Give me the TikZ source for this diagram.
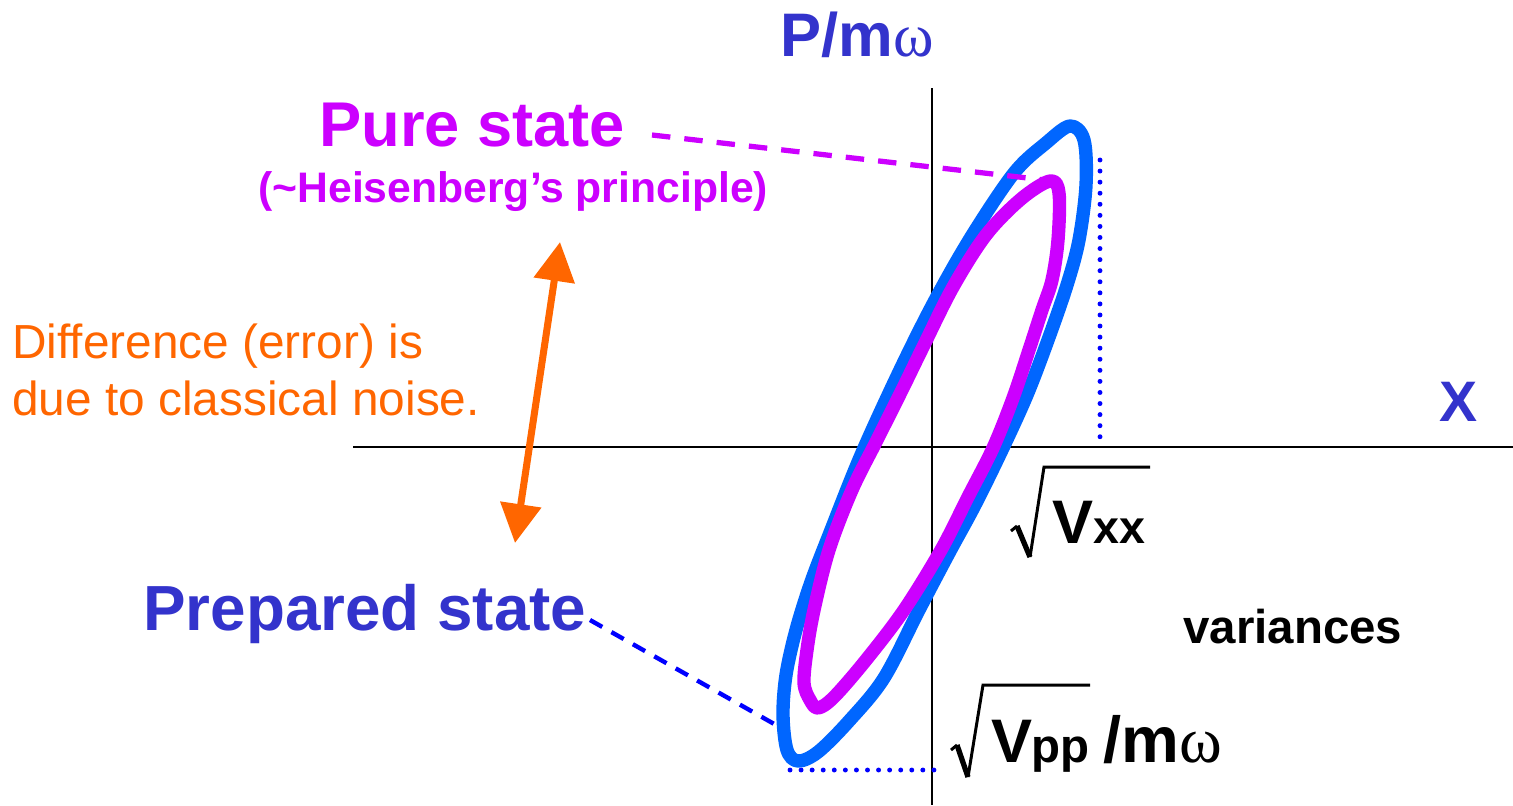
\documentclass[tikz,border=0pt]{standalone}
\usepackage{fontspec}
\setmainfont{Liberation Sans}
\newfontfamily\omegafont{Liberation Serif}
\usetikzlibrary{arrows.meta}
\definecolor{tblue}{HTML}{3333CC}
\definecolor{cblue}{HTML}{0066FF}
\definecolor{cmag}{HTML}{CC00FF}
\definecolor{corange}{HTML}{FF6600}
\definecolor{dblue}{HTML}{0000FF}
\newcommand\fsz[1]{\fontsize{#1}{#1}\selectfont}
\begin{document}
\begin{tikzpicture}[x=0.02cm,y=-0.02cm,
  txt/.style={inner sep=0pt,anchor=base west,font=\bfseries},
  axis/.style={black,line width=0.8pt},
  curve/.style={line width=7.6pt,line join=round,smooth cycle,tension=0.55},
  dotline/.style={dblue,line width=2.8pt,line cap=round,dash pattern=on 0pt off 6.3pt},
  dashmag/.style={cmag,line width=3pt,dash pattern=on 10.5pt off 8pt},
  dashblue/.style={dblue,line width=2.5pt,dash pattern=on 8pt off 6pt},
  radical/.style={black,line width=1.7pt,line join=miter}]
\useasboundingbox (0,0) rectangle (1513,805);

% axes
\coordinate (xl) at (353,447);
\coordinate (xr) at (1513,447);
\coordinate (yt) at (932,88);
\coordinate (yb) at (932,805);
\draw[axis] (xl) -- (xr);
\draw[axis] (yt) -- (yb);

% prepared state (blue curve)
\draw[cblue,curve] plot coordinates {
 (1070,126) (1084,140) (1086,185) (1079,240) (1067,285) (1048,340) (1027,395)
 (1002,450) (975,505) (949,553) (919,610) (884,678) (849,721) (818,752)
 (798,761) (787,750) (783,715) (786,675) (796,630) (811,582) (831,530)
 (861,455) (899,372) (934,302) (971,237) (1014,173) (1046,143)};

% pure state (magenta curve)
\draw[cmag,curve] plot coordinates {
 (1050,181) (1059,193) (1058,240) (1052,280) (1042,310) (1029,350) (1013,398)
 (993,448) (968,497) (941,550) (904,610) (866,660) (834,697) (818,708)
 (810,700) (804,683) (807,650) (814,610) (829,550) (852,490) (877,440)
 (902,390) (923,347) (953,287) (986,235) (1021,199)};

% dotted projections
\coordinate (dvt) at (1100,160);
\coordinate (dvb) at (1100,447);
\coordinate (dhl) at (790,770);
\coordinate (dhr) at (937,770);
\draw[dotline] (dvt) -- (dvb);
\draw[dotline] (dhl) -- (dhr);

% axis labels
\node[txt,text=tblue] (plabel) at (780,56) {\fsz{35}P/m{\omegafont\mdseries ω}};
\node[txt,text=tblue] (xlabel) at (1439,421) {\fsz{32.5}X};

% pure state label
\node[txt,text=cmag] (pure) at (319,146) {\fsz{36}Pure state};
\node[txt,text=cmag] (heis) at (258,202) {\fsz{24.3}(\char"007E Heisenberg’s principle)};
\coordinate (pureS) at (652,135);
\coordinate (pureE) at (1045,180);
\draw[dashmag] (pureS) -- (pureE);

% prepared state label
\node[txt,text=tblue] (prep) at (143,630) {\fsz{36.3}Prepared state};
\coordinate (prepS) at (590,620);
\coordinate (prepE) at (776,725);
\draw[dashblue] (prepS) -- (prepE);

% difference text
\node[inner sep=0pt,anchor=base west,text=corange] (diff1) at (12,358) {\fsz{27.2}Difference (error) is};
\node[inner sep=0pt,anchor=base west,text=corange] (diff2) at (12,415) {\fsz{27.2}due to classical noise.};

% orange double arrow
\coordinate (arrB) at (515,543);
\coordinate (arrT) at (560,242);
\draw[corange,line width=4pt,{Triangle[length=0.78cm,width=0.8cm]}-{Triangle[length=0.78cm,width=0.8cm]}] (arrB) -- (arrT);

% variances
\node[txt] (var) at (1183,643) {\fsz{27}variances};

% sqrt Vxx
\draw[radical] (1011,531) -- (1017,526);
\draw[black,line width=3pt] (1017,526) -- (1030,557);
\draw[radical] (1030,557) -- (1044,467) -- (1150,467);
\node[txt] (vx) at (1052,543) {\fsz{35}V};
\node[txt] (xx) at (1093,543) {\fsz{26.5}xx};

% sqrt Vpp / m omega
\draw[radical] (951,750) -- (957,745);
\draw[black,line width=3pt] (957,745) -- (968,777);
\draw[radical] (968,777) -- (983,685) -- (1090,685);
\node[txt] (vp) at (991,762) {\fsz{35}V};
\node[txt] (pp) at (1031,762) {\fsz{27}pp};
\node[txt] (mw) at (1103,762) {\fsz{37}/m{\omegafont\mdseries ω}};
\end{tikzpicture}
\end{document}
